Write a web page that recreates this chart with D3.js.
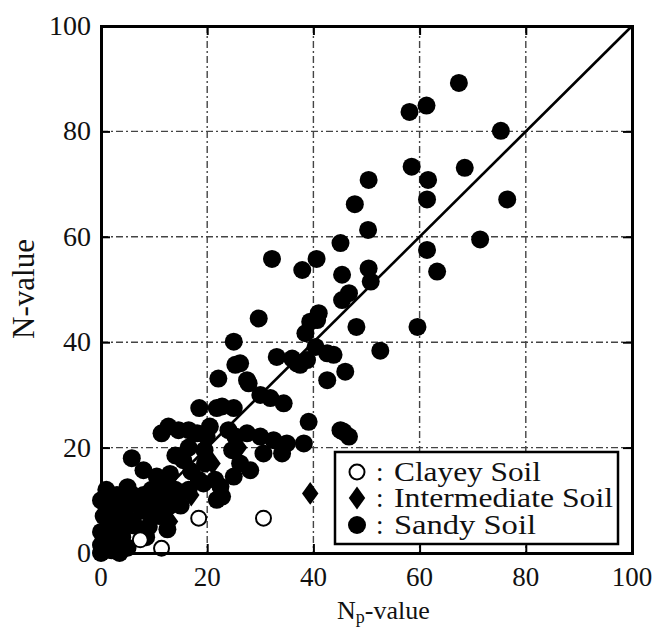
<!DOCTYPE html>
<html>
<head>
<meta charset="utf-8">
<script src="https://cdn.jsdelivr.net/npm/d3@7"></script>
<style>
  body { margin: 0; background: #fff; }
  svg { display: block; }
  text { font-family: "Liberation Serif", "Times New Roman", serif; fill: #111; }
</style>
</head>
<body>
<svg id="chart" width="655" height="630"></svg>
<script>
/*    ========    DATA    =========    */

// [Np-value, N-value]
var sandySoil = [
    [67.4, 89.2], [58.1, 83.7], [61.3, 84.9], [75.3, 80.1], [58.5, 73.3], [68.5, 73.1],
    [50.4, 70.8], [61.6, 70.8], [61.4, 67.1], [76.5, 67.1], [47.8, 66.2], [50.3, 61.3],
    [45.1, 58.8], [71.4, 59.5], [61.4, 57.5], [32.2, 55.8], [40.6, 55.8], [37.9, 53.7],
    [45.4, 52.8], [50.4, 54.0], [50.8, 51.5], [46.7, 49.3], [45.4, 48.0], [41.0, 45.5],
    [39.4, 43.9], [38.5, 41.7], [29.7, 44.5], [48.1, 42.9], [59.6, 42.9], [52.6, 38.4],
    [63.3, 53.4], [45.7, 23.0], [46.0, 34.4], [40.4, 39.1], [40.7, 44.2],
    [25.0, 40.1], [33.1, 37.2], [36.0, 36.9], [38.8, 36.6], [42.6, 37.9], [43.8, 37.6],
    [42.6, 32.8], [26.2, 36.0], [27.8, 32.2], [37.5, 35.7], [22.1, 33.1], [25.3, 35.7],
    [27.5, 32.8], [30.0, 30.0], [34.4, 28.4], [39.1, 24.9], [45.1, 23.3], [46.7, 22.1],
    [21.8, 27.5], [25.0, 27.5], [18.5, 27.5], [19.9, 22.1], [24.0, 23.3], [27.5, 22.7],
    [30.0, 22.1], [32.5, 21.4], [35.0, 20.8], [38.2, 20.8], [34.1, 18.9], [30.6, 18.9],
    [26.2, 17.0], [28.1, 15.7], [25.0, 14.5], [22.5, 12.6], [21.8, 10.1], [19.6, 17.0],
    [19.3, 13.2], [31.9, 29.4], [36.9, 36.0],
    [12.7, 24.0], [11.4, 22.7], [14.6, 23.3], [16.5, 23.3], [22.8, 27.8], [25.3, 22.1],
    [24.7, 19.5], [5.8, 18.0], [8.0, 15.7], [15.5, 17.6], [18.4, 13.9], [21.5, 13.9],
    [22.8, 10.7], [16.5, 12.0], [18.1, 22.7],
    [13.0, 15.0], [14.0, 18.5], [17.0, 15.5], [12.0, 13.0], [16.5, 20.0], [19.5, 19.5],
    [20.5, 24.0], [10.5, 14.5], [14.5, 10.5],
    [0.5, 0.5], [1.5, 2.0], [0.0, 4.0], [2.0, 5.0], [3.0, 7.0], [1.0, 9.0], [4.0, 10.0],
    [6.0, 11.0], [8.0, 11.0], [10.0, 10.0], [12.0, 11.0], [13.0, 9.0], [11.0, 7.0],
    [8.0, 8.0], [6.0, 6.0], [4.0, 3.0], [2.0, 0.5], [5.0, 1.0], [6.3, 5.2], [9.0, 5.0],
    [3.0, 11.0], [0.5, 7.0], [14.0, 12.0], [15.0, 9.0], [7.0, 9.0], [12.5, 4.5],
    [1.0, 12.0], [0.0, 1.5], [0.0, 0.0], [1.0, 3.0], [2.5, 2.5], [3.0, 4.5], [4.5, 7.0],
    [5.0, 9.0], [7.0, 10.5], [9.5, 12.0], [11.0, 12.5], [2.0, 9.5], [9.5, 8.0], [11.5, 9.0],
    [3.5, 0.0], [1.5, 6.0], [0.0, 10.0], [5.0, 12.5], [8.5, 3.0]
];

var intermediateSoil = [
    [39.4, 11.3], [13.0, 6.0], [17.0, 11.0], [21.0, 17.0], [26.0, 20.0], [5.0, 5.0], [9.0, 7.0]
];

var clayeySoil = [
    [7.4, 2.5], [11.4, 0.9], [18.4, 6.6], [30.6, 6.6]
];

var xTicks = [0, 20, 40, 60, 80, 100];
var yTicks = [0, 20, 40, 60, 80, 100];
var gridValues = [20, 40, 60, 80];
var oneToOne = [[0, 0], [100, 100]];

var legendItems = ["Clayey Soil", "Intermediate Soil", "Sandy Soil"];

/*    ========    SETTINGS    =========    */

var svg = d3.select("#chart");

var plotLeft = 101, plotRight = 632, plotTop = 26, plotBottom = 553;

var xscale = d3.scaleLinear().domain([0, 100]).range([plotLeft, plotRight]);
var yscale = d3.scaleLinear().domain([0, 100]).range([plotBottom, plotTop]);

/*    ========    GRID    =========    */

svg.append("g").selectAll("line")
    .data(gridValues).enter()
    .append("line")
    .attr("x1", function(d) { return xscale(d); })
    .attr("x2", function(d) { return xscale(d); })
    .attr("y1", plotTop).attr("y2", plotBottom)
    .attr("stroke", "#444").attr("stroke-width", 1.4)
    .attr("stroke-dasharray", "7,3,2,3");

svg.append("g").selectAll("line")
    .data(gridValues).enter()
    .append("line")
    .attr("y1", function(d) { return yscale(d); })
    .attr("y2", function(d) { return yscale(d); })
    .attr("x1", plotLeft).attr("x2", plotRight)
    .attr("stroke", "#444").attr("stroke-width", 1.4)
    .attr("stroke-dasharray", "7,3,2,3");

// 1:1 line
var line = d3.line()
    .x(function(d) { return xscale(d[0]); })
    .y(function(d) { return yscale(d[1]); });

svg.append("path")
    .datum(oneToOne)
    .attr("d", line)
    .attr("fill", "none")
    .attr("stroke", "#000")
    .attr("stroke-width", 2.6);

/*    ========    POINTS    =========    */

var diamond = d3.symbol().type(d3.symbolDiamond).size(150);

// intermediate first: most of them sit under the sandy cloud
svg.append("g").selectAll("path")
    .data(intermediateSoil).enter()
    .append("path")
    .attr("d", diamond)
    .attr("transform", function(d) {
        return "translate(" + xscale(d[0]) + "," + yscale(d[1]) + ") scale(1.25,1)";
    })
    .attr("fill", "#000");

svg.append("g").selectAll("circle")
    .data(sandySoil).enter()
    .append("circle")
    .attr("cx", function(d) { return xscale(d[0]); })
    .attr("cy", function(d) { return yscale(d[1]); })
    .attr("r", 9)
    .attr("fill", "#000");

svg.append("g").selectAll("circle")
    .data(clayeySoil).enter()
    .append("circle")
    .attr("cx", function(d) { return xscale(d[0]); })
    .attr("cy", function(d) { return yscale(d[1]); })
    .attr("r", 7.5)
    .attr("fill", "#fff")
    .attr("stroke", "#000")
    .attr("stroke-width", 2);

/*    ========    LEGEND    =========    */

var legend = svg.append("g");
legend.append("rect")
    .attr("x", 335).attr("y", 452)
    .attr("width", 283).attr("height", 92)
    .attr("fill", "#fff")
    .attr("stroke", "#000")
    .attr("stroke-width", 2.5);

var rowY = [472, 498, 525];

legend.append("circle")
    .attr("cx", 357).attr("cy", rowY[0]).attr("r", 7.5)
    .attr("fill", "#fff").attr("stroke", "#000").attr("stroke-width", 2);
legend.append("path")
    .attr("d", diamond)
    .attr("transform", "translate(357," + rowY[1] + ") scale(1.25,1)")
    .attr("fill", "#000");
legend.append("circle")
    .attr("cx", 357).attr("cy", rowY[2]).attr("r", 9)
    .attr("fill", "#000");

var widths = [147, 219, 142];
legend.selectAll("text.colon")
    .data(legendItems).enter()
    .append("text")
    .attr("class", "colon")
    .attr("x", 376)
    .attr("y", function(d, i) { return rowY[i] + 9; })
    .style("font-size", "27px")
    .text(":");

legend.selectAll("text.label")
    .data(legendItems).enter()
    .append("text")
    .attr("class", "label")
    .attr("x", 394)
    .attr("y", function(d, i) { return rowY[i] + 9; })
    .attr("textLength", function(d, i) { return widths[i]; })
    .attr("lengthAdjust", "spacingAndGlyphs")
    .style("font-size", "27px")
    .text(function(d) { return d; });

/*    ========    AXES    =========    */

var xAxisB = d3.axisBottom(xscale).tickValues(xTicks).tickSize(-9).tickFormat("");
var xAxisT = d3.axisTop(xscale).tickValues(xTicks).tickSize(-9).tickFormat("");
var yAxisL = d3.axisLeft(yscale).tickValues(yTicks).tickSize(-9).tickFormat("");
var yAxisR = d3.axisRight(yscale).tickValues(yTicks).tickSize(-9).tickFormat("");

[[xAxisB, "translate(0," + plotBottom + ")"], [xAxisT, "translate(0," + plotTop + ")"],
 [yAxisL, "translate(" + plotLeft + ",0)"], [yAxisR, "translate(" + plotRight + ",0)"]]
    .forEach(function(a) {
        var g = svg.append("g").attr("transform", a[1]).call(a[0]);
        g.select(".domain").attr("stroke", "#000").attr("stroke-width", 3);
        g.selectAll(".tick line").attr("stroke", "#000").attr("stroke-width", 2);
    });

// tick labels
svg.append("g").selectAll("text")
    .data(xTicks).enter()
    .append("text")
    .attr("x", function(d) { return xscale(d); })
    .attr("y", 586)
    .attr("text-anchor", "middle")
    .style("font-size", "27px")
    .text(function(d) { return d; });

svg.append("g").selectAll("text")
    .data(yTicks).enter()
    .append("text")
    .attr("x", 91)
    .attr("y", function(d) { return yscale(d) + 9; })
    .attr("text-anchor", "end")
    .style("font-size", "28px")
    .text(function(d) { return d; });

// axis titles
var xt = svg.append("text")
    .attr("x", 337).attr("y", 619)
    .style("font-size", "26px");
xt.append("tspan").text("N");
xt.append("tspan").attr("dy", 4).style("font-size", "18px").text("p");
xt.append("tspan").attr("dy", -4).text("-value");

svg.append("text")
    .attr("transform", "translate(34,289) rotate(-90)")
    .attr("text-anchor", "middle")
    .style("font-size", "31px")
    .text("N-value");
</script>
</body>
</html>
